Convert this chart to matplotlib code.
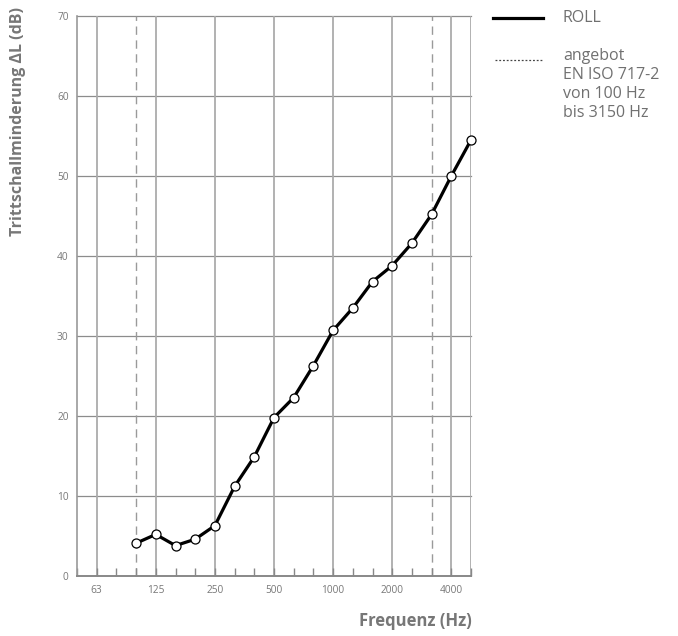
import matplotlib
matplotlib.use("Agg")
import matplotlib.pyplot as plt
from matplotlib.lines import Line2D

# third-octave band frequencies along the x axis
bands = ["50", "63", "80", "100", "125", "160", "200", "250", "315", "400", "500",
         "630", "800", "1000", "1250", "1600", "2000", "2500", "3150", "4000", "5000"]
labelled = ["63", "125", "250", "500", "1000", "2000", "4000"]
range_limits = ["100", "3150"]

# measured data (ROLL)
freqs = ["100", "125", "160", "200", "250", "315", "400", "500", "630", "800", "1000",
         "1250", "1600", "2000", "2500", "3150", "4000", "5000"]
values = [4.1, 5.2, 3.8, 4.6, 6.3, 11.2, 14.9, 19.8, 22.3, 26.3, 30.7,
          33.5, 36.8, 38.8, 41.6, 45.2, 50.0, 54.5]
yticks = [0, 10, 20, 30, 40, 50, 60, 70]

legend_solid = "ROLL"
legend_dotted = "angebot\nEN ISO 717-2\nvon 100 Hz\nbis 3150 Hz"

W, H = 678, 636
fig = plt.figure(figsize=(W / 100, H / 100), dpi=100)
ax = fig.add_axes([77 / W, 1 - 576 / H, (471 - 77) / W, (576 - 16) / H])

idx = {f: i for i, f in enumerate(bands)}
gray = "#777777"

ax.set_xlim(0, len(bands) - 1)
ax.set_ylim(0, 70)

# grid
for y in yticks[1:]:
    ax.axhline(y, color="#8c8c8c", lw=0.9, zorder=1, clip_on=False)
for f in labelled:
    ax.axvline(idx[f], color="#ababab", lw=1.3, zorder=1)
ax.axvline(len(bands) - 1, color="#ababab", lw=1.3, zorder=1)
for f in range_limits:
    ax.axvline(idx[f], color="#9a9a9a", lw=1.0, ls=(0, (6, 4)), zorder=1)

ax.plot([idx[f] for f in freqs], values, color="black", lw=2.3, zorder=3,
        marker="o", markersize=6.5, markerfacecolor="white",
        markeredgecolor="black", markeredgewidth=0.9, solid_joinstyle="round",
        clip_on=False)

for s in ["top", "right"]:
    ax.spines[s].set_visible(False)
ax.spines["left"].set_color("#999999")
ax.spines["bottom"].set_color("#888888")
ax.spines["left"].set_linewidth(1.2)
ax.spines["bottom"].set_linewidth(1.4)

ax.set_yticks(yticks)
ax.set_yticklabels([str(v) for v in yticks], fontsize=7.3, color=gray, family="Open Sans")
ax.tick_params(axis="y", length=0, pad=6)

ax.set_xticks([idx[f] for f in labelled])
ax.set_xticklabels(labelled, fontsize=7.3, color=gray, family="Open Sans")
ax.set_xticks(range(len(bands)), minor=True)
ax.tick_params(axis="x", which="both", direction="in", length=6, width=1.0,
               color="#888888", pad=6.5)

fig.text(18 / W, 1 - 122 / H, "Trittschallminderung ΔL (dB)", rotation=90,
         ha="center", va="center", fontsize=11.5, fontweight="bold",
         color=gray, family="Open Sans")
fig.text(472 / W, 1 - 621 / H, "Frequenz (Hz)", ha="right", va="center",
         fontsize=12, fontweight="bold", color=gray, family="Open Sans")

# legend
fig.add_artist(Line2D([493 / W, 543 / W], [1 - 18 / H, 1 - 18 / H],
                      color="black", lw=2.3, transform=fig.transFigure))
fig.add_artist(Line2D([495 / W, 543 / W], [1 - 60 / H, 1 - 60 / H],
                      color="#444444", lw=0.9, ls=(0, (1.5, 1.5)),
                      transform=fig.transFigure))
fig.text(563 / W, 1 - 18 / H, legend_solid, ha="left", va="center",
         fontsize=11.5, color="#707070", family="Open Sans")
fig.text(563 / W, 1 - 48 / H, legend_dotted, ha="left", va="top",
         fontsize=11.5, color="#707070", family="Open Sans", linespacing=1.25)

fig.savefig("out.png", dpi=100, facecolor="white")
